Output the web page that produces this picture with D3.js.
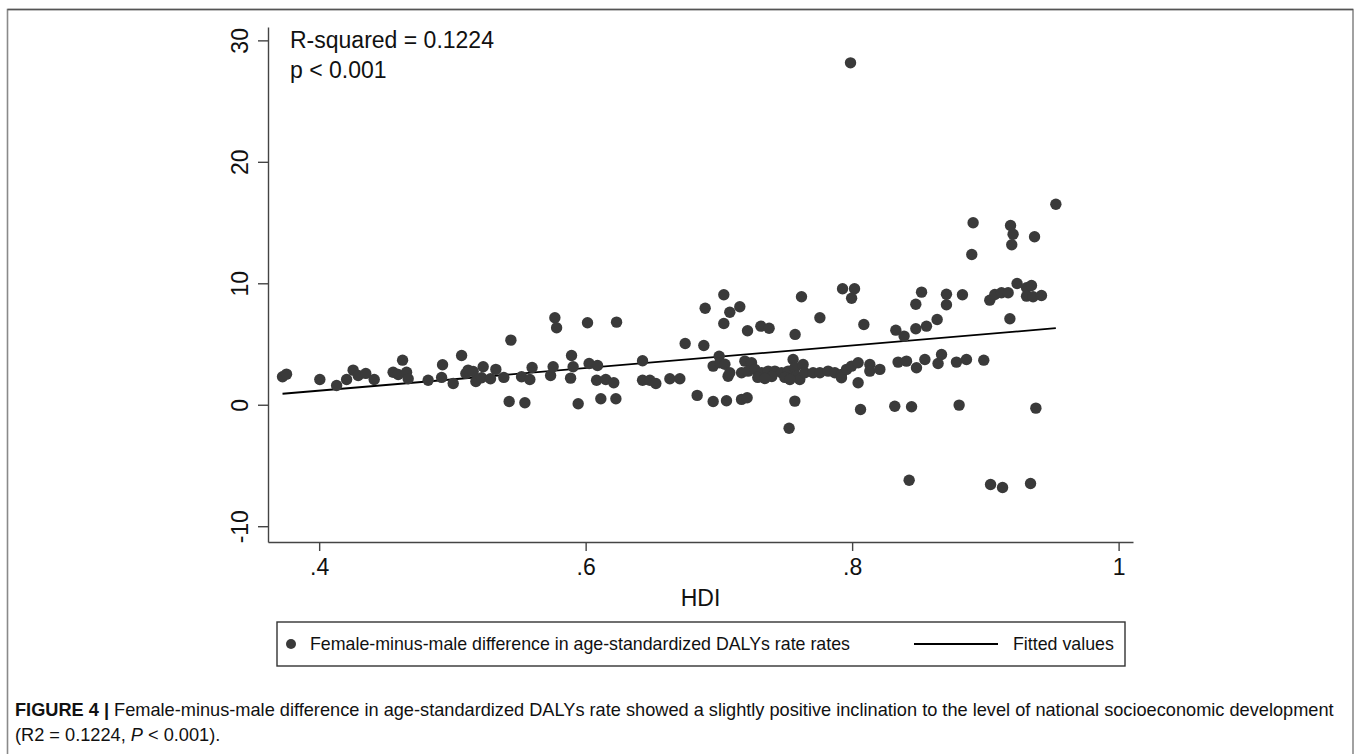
<!DOCTYPE html>
<html>
<head>
<meta charset="utf-8">
<script src="https://cdn.jsdelivr.net/npm/d3@7"></script>
<style>
  body { margin: 0; background: #fff; }
  text { font-family: "Liberation Sans", Arial, Helvetica, sans-serif; fill: #111; }
</style>
</head>
<body>
<div id="chart"></div>
<script>
// HDI of each country
const hdi = [
  0.3725, 0.3755, 0.4005, 0.4131, 0.4206, 0.4255, 0.4293, 0.4350, 0.4413, 0.4555,
  0.4593, 0.4626, 0.4656, 0.4668, 0.4818, 0.4919, 0.4926, 0.5006, 0.5069, 0.5101,
  0.5118, 0.5156, 0.5176, 0.5231, 0.5219, 0.5286, 0.5326, 0.5386, 0.5439, 0.5426,
  0.5519, 0.5544, 0.5581, 0.5598, 0.5737, 0.5756, 0.5769, 0.5782, 0.5887, 0.5894,
  0.5906, 0.5944, 0.6014, 0.6026, 0.6089, 0.6082, 0.6114, 0.6151, 0.6211, 0.6232,
  0.6227, 0.6427, 0.6427, 0.6482, 0.6527, 0.6632, 0.6707, 0.6747, 0.6837, 0.6887,
  0.6897, 0.6957, 0.6957, 0.7002, 0.7007, 0.7045, 0.7037, 0.7037, 0.7057, 0.7069,
  0.7082, 0.7082, 0.7157, 0.7170, 0.7212, 0.7215, 0.7195, 0.7245, 0.7170, 0.7219,
  0.7270, 0.7320, 0.7370, 0.7420, 0.7470, 0.7520, 0.7315, 0.7377, 0.7527, 0.7572,
  0.7557, 0.7570, 0.7583, 0.7607, 0.7632, 0.7570, 0.7620, 0.7645, 0.7707, 0.7758,
  0.7820, 0.7870, 0.7920, 0.7920, 0.7958, 0.7996, 0.8045, 0.8045, 0.7758, 0.7928,
  0.8018, 0.7996, 0.7988, 0.8063, 0.8088, 0.8133, 0.8133, 0.8208, 0.8320, 0.8446,
  0.8328, 0.8390, 0.8345, 0.8408, 0.8428, 0.8478, 0.8521, 0.8478, 0.8558, 0.8638,
  0.8483, 0.8546, 0.8671, 0.8645, 0.8708, 0.8708, 0.8783, 0.8803, 0.8828, 0.8858,
  0.8988, 0.8908, 0.8898, 0.9033, 0.9071, 0.9121, 0.9171, 0.9184, 0.9238, 0.9309,
  0.9346, 0.9309, 0.9358, 0.9421, 0.9039, 0.9129, 0.9339, 0.9379, 0.9189, 0.9208,
  0.9198, 0.9369, 0.9529, 0.7292, 0.7397, 0.7495, 0.7345, 0.7533
];

// female-minus-male difference in age-standardized DALYs rate
const diff = [
  2.30, 2.52, 2.08, 1.59, 2.08, 2.85, 2.41, 2.58, 2.08, 2.68,
  2.49, 3.67, 2.68, 2.14, 2.02, 2.25, 3.29, 1.75, 4.06, 2.58,
  2.85, 2.74, 1.92, 3.13, 2.22, 2.14, 2.91, 2.25, 5.32, 0.27,
  2.30, 0.16, 2.08, 3.07, 2.41, 3.13, 7.16, 6.34, 2.19, 4.06,
  3.13, 0.08, 6.75, 3.40, 3.23, 2.02, 0.49, 2.08, 1.81, 6.80,
  0.49, 3.62, 2.02, 2.02, 1.75, 2.14, 2.14, 5.04, 0.77, 4.88,
  7.95, 0.27, 3.18, 4.00, 3.46, 3.34, 9.05, 6.69, 0.33, 2.35,
  2.63, 7.62, 8.07, 0.44, 0.58, 6.09, 3.59, 3.46, 2.63, 2.77,
  2.91, 2.63, 2.77, 2.77, 2.63, 2.77, 6.47, 6.30, -1.93, 5.79,
  3.73, 3.05, 2.35, 2.08, 3.32, 0.30, 8.89, 2.63, 2.63, 2.63,
  2.77, 2.63, 2.49, 2.22, 2.91, 3.18, 3.46, 1.81, 7.16, 9.55,
  9.55, 8.77, 28.15, -0.39, 6.61, 3.32, 2.77, 2.91, -0.12, -0.16,
  6.14, 5.65, 3.51, 3.59, -6.21, 8.28, 9.27, 6.26, 6.47, 7.02,
  3.05, 3.73, 4.14, 3.40, 9.10, 8.23, 3.51, -0.03, 9.05, 3.73,
  3.67, 14.98, 12.37, 8.61, 9.08, 9.22, 9.22, 7.08, 9.98, 9.63,
  9.82, 8.94, 8.89, 9.00, -6.56, -6.81, -6.48, -0.28, 14.76, 14.04,
  13.17, 13.83, 16.51, 2.25, 2.33, 2.25, 2.16, 2.08
];

// linear fit: intercept and slope
const fitIntercept = -2.56;
const fitSlope = 9.3;

const xTicks = [0.4, 0.6, 0.8, 1];
const yTicks = [-10, 0, 10, 20, 30];

const width = 1357;
const height = 754;
const ink = "#3a3a3a";

const svg = d3.select("#chart")
    .append("svg")
    .attr("width", width)
    .attr("height", height);

// figure frame
svg.append("path")
    .attr("d", `M7.5,${height + 5} V9.5 H1353 V${height + 5}`)
    .attr("fill", "none")
    .attr("stroke", "#8a8a8a")
    .attr("stroke-width", 1.6);
svg.append("line")
    .attr("x1", 7.5).attr("x2", 1353)
    .attr("y1", 9.5).attr("y2", 9.5)
    .attr("stroke", "#555")
    .attr("stroke-width", 1.6);

// scales (domains run a little past the ticks, as in the picture)
const x = d3.scaleLinear().domain([0.3616, 1.0108]).range([268, 1133]);
const y = d3.scaleLinear().domain([-11.3, 31.1]).range([542, 27]);

// axes
const xAxis = svg.append("g")
    .attr("transform", `translate(0,${y.range()[0]})`)
    .call(d3.axisBottom(x).tickValues(xTicks).tickSize(9).tickSizeOuter(0)
        .tickFormat(d => d === 1 ? "1" : d3.format(".1f")(d).replace(/^0/, "")));
const yAxis = svg.append("g")
    .attr("transform", `translate(${x.range()[0]},0)`)
    .call(d3.axisLeft(y).tickValues(yTicks).tickSize(10).tickSizeOuter(0)
        .tickFormat(d => String(d)));

[xAxis, yAxis].forEach(g => {
    g.select(".domain").attr("stroke", "#444").attr("stroke-width", 1.4);
    g.selectAll(".tick line").attr("stroke", "#444").attr("stroke-width", 1.4);
    g.selectAll(".tick text")
        .style("font-size", "23px")
        .attr("fill", "#111");
});

xAxis.selectAll(".tick text").attr("y", 0).attr("dy", null)
    .attr("transform", "translate(0,33)");

// y tick labels run vertically
yAxis.selectAll(".tick text")
    .attr("x", null).attr("dy", null)
    .attr("text-anchor", "middle")
    .attr("transform", "translate(-20,0) rotate(-90)");

// axis title
svg.append("text")
    .attr("x", (x.range()[0] + x.range()[1]) / 2)
    .attr("y", 606)
    .attr("text-anchor", "middle")
    .style("font-size", "23px")
    .text("HDI");

// fitted line over the data extent
const xExt = d3.extent(hdi);
svg.append("line")
    .attr("x1", x(xExt[0])).attr("y1", y(fitIntercept + fitSlope * xExt[0]))
    .attr("x2", x(xExt[1])).attr("y2", y(fitIntercept + fitSlope * xExt[1]))
    .attr("stroke", "#000")
    .attr("stroke-width", 1.8);

// points
svg.append("g")
    .selectAll("circle")
    .data(hdi.map((h, i) => ({ h: h, v: diff[i] })))
    .enter().append("circle")
    .attr("cx", d => x(d.h))
    .attr("cy", d => y(d.v))
    .attr("r", 5.7)
    .attr("fill", ink);

// annotations
svg.append("text")
    .attr("x", 290).attr("y", 48)
    .style("font-size", "23px")
    .text("R-squared = 0.1224");
svg.append("text")
    .attr("x", 290).attr("y", 78)
    .style("font-size", "23px")
    .text("p < 0.001");

// legend
const legend = svg.append("g");
legend.append("rect")
    .attr("x", 277).attr("y", 622)
    .attr("width", 848).attr("height", 44)
    .attr("fill", "none")
    .attr("stroke", "#333")
    .attr("stroke-width", 1.4);
legend.append("circle")
    .attr("cx", 291).attr("cy", 644)
    .attr("r", 5)
    .attr("fill", ink);
legend.append("text")
    .attr("x", 310).attr("y", 650)
    .style("font-size", "17.8px")
    .text("Female-minus-male difference in age-standardized DALYs rate rates");
legend.append("line")
    .attr("x1", 914).attr("x2", 998)
    .attr("y1", 644).attr("y2", 644)
    .attr("stroke", "#000")
    .attr("stroke-width", 1.8);
legend.append("text")
    .attr("x", 1013).attr("y", 650)
    .style("font-size", "17.8px")
    .text("Fitted values");

// caption
const cap1 = svg.append("text")
    .attr("x", 15).attr("y", 716)
    .style("font-size", "18.2px");
cap1.append("tspan").style("font-weight", "bold").text("FIGURE 4 | ");
cap1.append("tspan")
    .text("Female-minus-male difference in age-standardized DALYs rate showed a slightly positive inclination to the level of national socioeconomic development");

const cap2 = svg.append("text")
    .attr("x", 15).attr("y", 741)
    .style("font-size", "18.2px");
cap2.append("tspan").text("(R2 = 0.1224, ");
cap2.append("tspan").style("font-style", "italic").text("P");
cap2.append("tspan").text(" < 0.001).");
</script>
</body>
</html>
